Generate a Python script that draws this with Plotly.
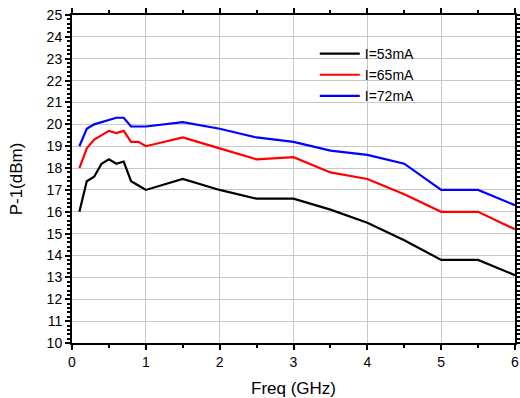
import plotly.graph_objects as go

freq = [0.1, 0.2, 0.3, 0.4, 0.5, 0.6, 0.7, 0.8, 0.9, 1.0, 1.5, 2.0, 2.5, 3.0, 3.5, 4.0, 4.5, 5.0, 5.5, 6.0]
p53 = [16.0, 17.4, 17.6, 18.2, 18.4, 18.2, 18.3, 17.4, 17.2, 17.0, 17.5, 17.0, 16.6, 16.6, 16.1, 15.5, 14.7, 13.8, 13.8, 13.1]
p65 = [18.0, 18.9, 19.3, 19.5, 19.7, 19.6, 19.7, 19.2, 19.2, 19.0, 19.4, 18.9, 18.4, 18.5, 17.8, 17.5, 16.8, 16.0, 16.0, 15.2]
p72 = [19.0, 19.8, 20.0, 20.1, 20.2, 20.3, 20.3, 19.9, 19.9, 19.9, 20.1, 19.8, 19.4, 19.2, 18.8, 18.6, 18.2, 17.0, 17.0, 16.3]
names = ["I=53mA", "I=65mA", "I=72mA"]
colors = ["#000000", "#ff0000", "#0000ff"]

fig = go.Figure()
for ys, nm, c in zip([p53, p65, p72], names, colors):
    fig.add_trace(go.Scatter(x=freq, y=ys, mode="lines", name=nm,
                             line=dict(color=c, width=2.2)))

font = dict(family="Liberation Sans, Arial, sans-serif", size=14, color="#000")
fig.update_layout(
    width=520, height=398,
    margin=dict(l=72, r=5, t=15, b=55, autoexpand=False),
    paper_bgcolor="white", plot_bgcolor="white",
    font=font,
    showlegend=True,
    legend=dict(x=0.548, y=0.93, xanchor="left", yanchor="top",
                bgcolor="rgba(0,0,0,0)", font=dict(size=14),
                tracegroupgap=0, itemwidth=40),
)
fig.update_xaxes(
    range=[0, 6], dtick=1, tick0=0, automargin=False,
    showgrid=True, gridcolor="#c8c8c8", gridwidth=1,
    showline=True, linecolor="#000", linewidth=2, mirror="ticks",
    ticks="outside", ticklen=5, tickwidth=2, tickcolor="#000",
    minor=dict(dtick=0.5, ticks="outside", ticklen=3, tickwidth=2, tickcolor="#000", showgrid=False),
    zeroline=False,
    title=dict(text="Freq (GHz)", standoff=13),
)
fig.update_yaxes(
    range=[10, 25], dtick=1, tick0=10, automargin=False,
    showgrid=True, gridcolor="#c8c8c8", gridwidth=1,
    showline=True, linecolor="#000", linewidth=2, mirror="ticks",
    ticks="outside", ticklen=5, tickwidth=2, tickcolor="#000",
    minor=dict(dtick=0.2, ticks="outside", ticklen=3, tickwidth=1.5, tickcolor="#000", showgrid=False),
    zeroline=False,
    title=dict(text="P-1(dBm)", standoff=20),
)
fig.write_html("out.html", config={"displayModeBar": False},
               post_script="document.body.style.margin='0';document.body.style.overflow='hidden';")
